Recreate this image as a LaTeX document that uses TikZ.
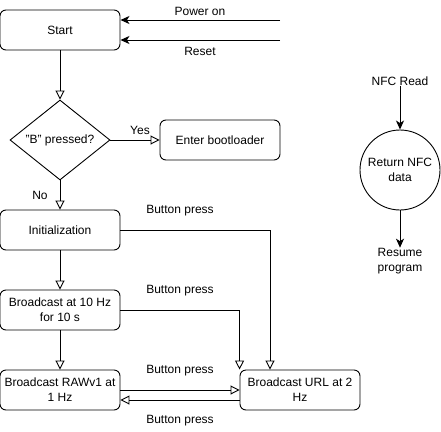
\documentclass[tikz,border=0pt]{standalone}
\usepackage{fontspec}
\setmainfont{Liberation Sans}
\usetikzlibrary{arrows.meta,shapes.geometric}
\begin{document}
\begin{tikzpicture}[x=1pt,y=-1pt,line width=0.9pt,
  every node/.style={font=\fontsize{12}{15}\selectfont},
  box/.style={draw,rounded corners=6pt,minimum width=120pt,minimum height=40pt,align=center,inner sep=2pt},
  dec/.style={draw,diamond,aspect=1.25,minimum width=100pt,minimum height=80pt,inner sep=0pt},
  circ/.style={draw,circle,minimum size=80pt,align=center,inner sep=0pt},
  lbl/.style={inner sep=0pt,align=center},
  flow/.style={-{Triangle[open,length=9pt,width=9pt]}},
  sig/.style={-{Stealth[length=9pt,width=8pt,inset=2.5pt]}}]
\useasboundingbox (0,0) rectangle (441,431);
\node[box] (start) at (60,30) {Start};
\node[dec] (bp) at (60,140) {"B" pressed?};
\node[box] (boot) at (220,140) {Enter bootloader};
\node[box] (init) at (60,230) {Initialization};
\node[box] (b10) at (60,310) {Broadcast at 10 Hz\\for 10 s};
\node[box] (raw) at (60,390) {Broadcast RAWv1 at\\1 Hz};
\node[box] (url) at (300,390) {Broadcast URL at 2\\Hz};
\node[circ] (nfc) at (400,170) {Return NFC\\data};
\coordinate (pw) at (280,20);
\coordinate (rs) at (280,40);
\node[lbl] (nfcr) at (400,81) {NFC Read};
\node[lbl] (res) at (400,261) {Resume\\program};
\node[lbl] at (200,11) {Power on};
\node[lbl] at (200,51) {Reset};
\node[lbl] at (140,130) {Yes};
\node[lbl] at (40,195) {No};
\node[lbl] at (180,211) {Button press};
\node[lbl] at (180,291) {Button press};
\node[lbl] at (180,371) {Button press};
\node[lbl] at (180,421) {Button press};
\draw[sig] (pw) -- (start.east |- pw);
\draw[sig] (rs) -- (start.east |- rs);
\draw[flow] (start) -- (bp);
\draw[flow] (bp) -- (boot);
\draw[flow] (bp) -- (init);
\draw[flow] (init) -- (b10);
\draw[flow] (b10) -- (raw);
\draw[flow] (init.east) -| (url.north -| 270,0);
\draw[flow] (b10.east) -| (url.north west);
\draw[flow] (raw.east) -- (url.west);
\draw[flow] (url.west |- 0,400) -- (raw.east |- 0,400);
\draw[sig] (nfcr) -- (nfc);
\draw[sig] (nfc) -- (res);
\end{tikzpicture}
\end{document}
